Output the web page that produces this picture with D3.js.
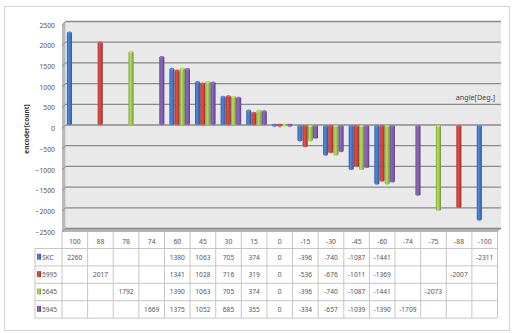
<!DOCTYPE html>
<html>
<head>
<meta charset="utf-8">
<script src="https://cdn.jsdelivr.net/npm/d3@7"></script>
<style>
  html, body { margin: 0; padding: 0; background: #fff; }
  svg { display: block; }
</style>
</head>
<body>
<svg id="chart" width="513" height="333"></svg>
<script>
// Encoder counts per target angle, one series per unit
const categories = ["100","88","78","74","60","45","30","15","0","-15","-30","-45","-60","-74","-75","-88","-100"];
const seriesNames = ["SKC","5995","5645","5945"];
const skc   = [2260, null, null, null, 1380, 1063, 705, 374, 0, -396, -740, -1087, -1441, null, null, null, -2311];
const s5995 = [null, 2017, null, null, 1341, 1028, 716, 319, 0, -536, -676, -1011, -1369, null, null, -2007, null];
const s5645 = [null, null, 1792, null, 1390, 1063, 705, 374, 0, -396, -740, -1087, -1441, null, -2073, null, null];
const s5945 = [null, null, null, 1669, 1375, 1052, 685, 355, 0, -334, -657, -1039, -1390, -1709, null, null, null];
const yTicks = [2500, 2000, 1500, 1000, 500, 0, -500, -1000, -1500, -2000, -2500];

const seriesValues = [skc, s5995, s5645, s5945];
const colors = ["#3f72be", "#c4403b", "#94bf4c", "#7a58a6"];

const svg = d3.select("#chart");
const defs = svg.append("defs");
const font = "'Noto Sans', 'DejaVu Sans', sans-serif";

// Front plane (axis labels / table) and back wall (offset for the 3D depth)
const frontLeft = 62, frontRight = 497.5;
const depthX = 3.5, depthY = -3.5;

const x = d3.scaleBand().domain(categories).range([frontLeft, frontRight]).padding(0);
const xSeries = d3.scaleBand().domain(d3.range(seriesNames.length)).range([0, 20.8]).padding(0.02);
const yFront = d3.scaleLinear().domain([-2500, 2500]).range([232, 25]);
const yBack = v => yFront(v) + depthY;

// Chart frame
svg.append("rect")
  .attr("x", 4.5).attr("y", 6.5).attr("width", 505).attr("height", 324)
  .attr("fill", "#fff").attr("stroke", "#d4d4d4").attr("stroke-width", 1);

// Back wall
svg.append("rect")
  .attr("x", frontLeft + depthX).attr("y", yBack(2500))
  .attr("width", frontRight - frontLeft).attr("height", yBack(-2500) - yBack(2500))
  .attr("fill", "#e9e9e9");

// Side wall and floor
svg.append("polygon")
  .attr("points", [[frontLeft, yFront(2500)], [frontLeft, yFront(-2500)],
                   [frontLeft + depthX, yBack(-2500)], [frontLeft + depthX, yBack(2500)]].join(" "))
  .attr("fill", "#b9b9b9");
svg.append("polygon")
  .attr("points", [[frontLeft, yFront(-2500)], [frontRight, yFront(-2500)],
                   [frontRight + depthX, yBack(-2500)], [frontLeft + depthX, yBack(-2500)]].join(" "))
  .attr("fill", "#b4b4b4");

// Gridlines on the back wall
svg.append("g").selectAll("line").data(yTicks).join("line")
  .attr("x1", frontLeft + depthX).attr("x2", frontRight + depthX)
  .attr("y1", d => yBack(d)).attr("y2", d => yBack(d))
  .attr("stroke", "#8a8a8a").attr("stroke-width", 1.3);
svg.append("g").selectAll("line").data(yTicks).join("line")
  .attr("x1", frontLeft).attr("x2", frontLeft + depthX)
  .attr("y1", d => yFront(d)).attr("y2", d => yBack(d))
  .attr("stroke", "#8a8a8a").attr("stroke-width", 1);

// Y axis labels
const yAxis = d3.axisLeft(yFront).tickValues(yTicks).tickFormat(d3.format("d")).tickSize(0).tickPadding(7);
const yg = svg.append("g").attr("transform", `translate(${frontLeft},0)`).call(yAxis);
yg.select(".domain").remove();
yg.selectAll("text").attr("font-family", font).attr("font-size", 6.8).attr("fill", "#555");

// Axis titles
svg.append("text")
  .attr("transform", `translate(29,129) rotate(-90)`)
  .attr("text-anchor", "middle")
  .attr("font-family", font).attr("font-size", 6.5).attr("font-weight", "bold").attr("fill", "#333")
  .text("encoder[count]");
svg.append("text")
  .attr("x", 495).attr("y", 99.5)
  .attr("text-anchor", "end")
  .attr("font-family", font).attr("font-size", 7.2).attr("fill", "#444")
  .text("angle[Deg.]");

// Cylinder shading per series
colors.forEach((c, i) => {
  const g = defs.append("linearGradient").attr("id", "cyl" + i)
    .attr("x1", "0%").attr("x2", "100%").attr("y1", "0%").attr("y2", "0%");
  const base = d3.color(c);
  g.append("stop").attr("offset", "0%").attr("stop-color", base.darker(0.5));
  g.append("stop").attr("offset", "35%").attr("stop-color", base.brighter(0.45));
  g.append("stop").attr("offset", "70%").attr("stop-color", base);
  g.append("stop").attr("offset", "100%").attr("stop-color", base.darker(0.9));
});

// Bars
const barData = [];
seriesValues.forEach((vals, s) => {
  vals.forEach((v, k) => {
    if (v !== null) barData.push({ s, cat: categories[k], v });
  });
});
const barShift = 4.8;
const zeroY = yBack(0);
svg.append("g").selectAll("rect").data(barData).join("rect")
  .attr("x", d => x(d.cat) + barShift + xSeries(d.s))
  .attr("width", xSeries.bandwidth())
  .attr("y", d => Math.min(yBack(d.v), zeroY) - (d.v === 0 ? 1.2 : 0))
  .attr("height", d => Math.max(Math.abs(yBack(d.v) - zeroY), 2.4))
  .attr("rx", 2.4).attr("ry", 1.6)
  .attr("fill", d => `url(#cyl${d.s})`);
// Top faces of the cylinders
svg.append("g").selectAll("ellipse").data(barData).join("ellipse")
  .attr("cx", d => x(d.cat) + barShift + xSeries(d.s) + xSeries.bandwidth() / 2)
  .attr("cy", d => d.v >= 0 ? yBack(d.v) + 1.2 : zeroY + 1.2)
  .attr("rx", xSeries.bandwidth() / 2 - 0.6).attr("ry", 1)
  .attr("fill", d => d3.color(colors[d.s]).brighter(0.7))
  .attr("opacity", 0.8);

// Data table
const tableLeft = 35;
const headerTop = yFront(-2500), headerBottom = 248.5;
const rowH = 17.4;
const table = svg.append("g");
const gridColor = "#c6c6c6";
const txtColor = "#555";

// header cells (category labels)
const cols = categories.map(c => ({ c, x0: x(c), x1: x(c) + x.bandwidth() }));
table.selectAll("line.hv").data([...cols.map(d => d.x0), frontRight]).join("line")
  .attr("class", "hv")
  .attr("x1", d => d).attr("x2", d => d)
  .attr("y1", headerTop).attr("y2", headerBottom + rowH * seriesNames.length)
  .attr("stroke", gridColor).attr("stroke-width", 1);
table.selectAll("text.hd").data(cols).join("text")
  .attr("class", "hd")
  .attr("x", d => (d.x0 + d.x1) / 2).attr("y", 244)
  .attr("text-anchor", "middle")
  .attr("font-family", font).attr("font-size", 6.8).attr("fill", txtColor)
  .text(d => d.c);

// row lines
table.selectAll("line.rh").data(d3.range(seriesNames.length + 1)).join("line")
  .attr("class", "rh")
  .attr("x1", tableLeft).attr("x2", frontRight)
  .attr("y1", i => headerBottom + i * rowH).attr("y2", i => headerBottom + i * rowH)
  .attr("stroke", gridColor).attr("stroke-width", 1);
table.append("line")
  .attr("x1", tableLeft).attr("x2", tableLeft)
  .attr("y1", headerBottom).attr("y2", headerBottom + rowH * seriesNames.length)
  .attr("stroke", gridColor).attr("stroke-width", 1);

// legend keys and names
seriesNames.forEach((name, s) => {
  const cy = headerBottom + s * rowH + rowH / 2;
  table.append("rect")
    .attr("x", 37).attr("y", cy - 3.5).attr("width", 4).attr("height", 6)
    .attr("fill", `url(#cyl${s})`);
  table.append("text")
    .attr("x", 42).attr("y", cy + 2.4)
    .attr("font-family", font).attr("font-size", 6.6).attr("fill", txtColor)
    .text(name);
  table.append("g").selectAll("text")
    .data(seriesValues[s].map((v, k) => ({ v, k })).filter(d => d.v !== null))
    .join("text")
    .attr("x", d => x(categories[d.k]) + x.bandwidth() / 2)
    .attr("y", cy + 2.4)
    .attr("text-anchor", "middle")
    .attr("font-family", font).attr("font-size", 6.6).attr("fill", txtColor)
    .text(d => d.v);
});
</script>
</body>
</html>
